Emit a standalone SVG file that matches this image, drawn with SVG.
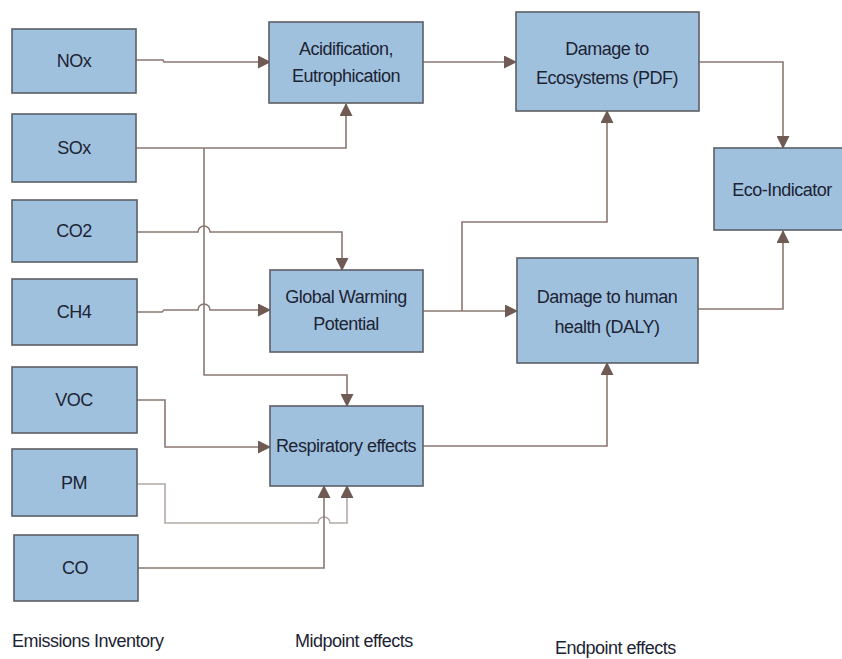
<svg xmlns="http://www.w3.org/2000/svg" width="842" height="659" viewBox="0 0 842 659">
<defs>
<marker id="arr" markerWidth="13" markerHeight="13" viewBox="0 0 13 13" refX="12" refY="6.5" orient="auto" markerUnits="userSpaceOnUse">
<path d="M0,0 L13,6.5 L0,13 Z" fill="#6f5a54"/>
</marker>
<style>
.box{fill:#a0c1de;stroke:#5a5f66;stroke-width:1.6}
.t{font-family:"Liberation Sans",Arial,sans-serif;font-size:18px;fill:#1c2333;text-anchor:middle;letter-spacing:-0.5px}
.lbl{font-family:"Liberation Sans",Arial,sans-serif;font-size:18px;fill:#1c2333;letter-spacing:-0.5px}
.c{fill:none;stroke:#8a7771;stroke-width:1.6}
.cl{fill:none;stroke:#b3aaa7;stroke-width:1.6}
.a{marker-end:url(#arr)}
</style>
</defs>
<rect width="842" height="659" fill="#ffffff"/>

<g id="connectors">
<path class="c a" d="M136,60 L163,60 L164,62 L270,62"/>
<path class="c a" d="M136,148 L346,148 L346,104"/>
<path class="c a" d="M204,148 L204,375 L347,375 L347,406"/>
<path class="c a" d="M137,232 L198,232 A6,6 0 0 1 210,232 L342,232 L342,270"/>
<path class="c a" d="M137,312 L162,312 L164,310 L198,310 A6,6 0 0 1 210,310 L270,310"/>
<path class="c a" d="M137,400 L165,400 L165,447 L270,447"/>
<path class="cl a" d="M137,484 L165,484 L165,523 L318,523 A6,6 0 0 1 330,523 L347,523 L347,486"/>
<path class="c a" d="M138,568 L324,568 L324,486"/>
<path class="c a" d="M423,62 L516,62"/>
<path class="c a" d="M423,311 L517,311"/>
<path class="c a" d="M462,311 L462,222 L607,222 L607,111"/>
<path class="c a" d="M423,446 L607,446 L607,363"/>
<path class="c a" d="M699,62 L783,62 L783,148"/>
<path class="c a" d="M698,309 L783,309 L783,231"/>
</g>

<g id="nox"><rect class="box" x="12" y="29" width="124" height="64"/><text class="t" x="74" y="67">NOx</text></g>
<g id="sox"><rect class="box" x="12" y="114" width="124" height="68"/><text class="t" x="74" y="154">SOx</text></g>
<g id="co2"><rect class="box" x="12" y="200" width="125" height="62"/><text class="t" x="74" y="237">CO2</text></g>
<g id="ch4"><rect class="box" x="12" y="279" width="125" height="66"/><text class="t" x="74" y="318">CH4</text></g>
<g id="voc"><rect class="box" x="12" y="367" width="125" height="66"/><text class="t" x="74" y="406">VOC</text></g>
<g id="pm"><rect class="box" x="12" y="449" width="125" height="67"/><text class="t" x="74" y="489">PM</text></g>
<g id="co"><rect class="box" x="14" y="535" width="124" height="66"/><text class="t" x="75" y="574">CO</text></g>

<g id="acid"><rect class="box" x="269" y="22" width="154" height="81"/><text class="t" x="346" y="55">Acidification,</text><text class="t" x="346" y="82">Eutrophication</text></g>
<g id="gwp"><rect class="box" x="270" y="270" width="153" height="82"/><text class="t" x="346" y="303">Global Warming</text><text class="t" x="346" y="330">Potential</text></g>
<g id="resp"><rect class="box" x="270" y="406" width="153" height="80"/><text class="t" x="346" y="452">Respiratory effects</text></g>

<g id="eco"><rect class="box" x="516" y="12" width="183" height="99"/><text class="t" x="607" y="55">Damage to</text><text class="t" x="607" y="84">Ecosystems (PDF)</text></g>
<g id="human"><rect class="box" x="517" y="258" width="181" height="105"/><text class="t" x="607" y="303">Damage to human</text><text class="t" x="607" y="333">health (DALY)</text></g>
<g id="ecoind"><rect class="box" x="714" y="148" width="140" height="82"/><text class="t" x="782" y="196">Eco-Indicator</text></g>

<text class="lbl" x="12" y="647">Emissions Inventory</text>
<text class="lbl" x="295" y="647">Midpoint effects</text>
<text class="lbl" x="555" y="654">Endpoint effects</text>
</svg>
